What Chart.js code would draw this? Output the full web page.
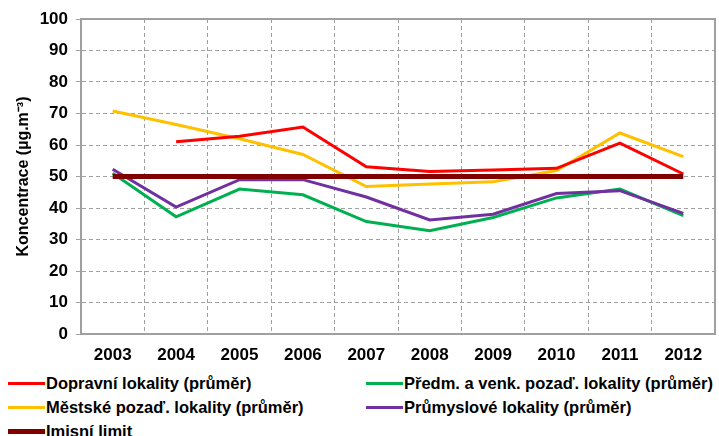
<!DOCTYPE html>
<html lang="cs">
<head>
    <meta charset="UTF-8">
    <title>Koncentrace</title>
    <style>
        body {
            margin: 0;
            padding: 0;
            background-color: #fff;
            font-family: "Liberation Sans", Arial, sans-serif;
        }
        .chart-box {
            position: relative;
            width: 719px;
            height: 366px;
        }
        .legend {
            position: relative;
            width: 719px;
            height: 70px;
        }
        .legend .item {
            position: absolute;
            display: flex;
            align-items: center;
            font-size: 16.5px;
            font-weight: bold;
            color: #000;
            white-space: nowrap;
            line-height: 20px;
        }
        .legend .swatch {
            width: 37px;
            margin-right: 1px;
        }
    </style>
</head>
<body>

    <div class="chart-box">
        <canvas id="no2Chart" width="719" height="366"></canvas>
    </div>
    <div class="legend" id="legend"></div>

    <script src="https://cdn.jsdelivr.net/npm/chart.js"></script>
    <script>
        // Data
        const years = ['2003', '2004', '2005', '2006', '2007', '2008', '2009', '2010', '2011', '2012'];
        const dopravni = [null, 61.0, 62.8, 65.7, 53.1, 51.6, 52.1, 52.6, 60.6, 50.8];
        const mestske = [70.8, 66.5, 62.0, 57.0, 46.8, 47.6, 48.3, 51.9, 63.8, 56.3];
        const predmestske = [51.0, 37.2, 46.0, 44.2, 35.7, 32.8, 37.0, 43.2, 46.0, 37.6];
        const prumyslove = [52.3, 40.3, 49.0, 49.0, 43.5, 36.2, 38.0, 44.6, 45.5, 38.3];
        const limit = [50, 50, 50, 50, 50, 50, 50, 50, 50, 50];

        const series = [
            { label: 'Dopravní lokality (průměr)', data: dopravni, color: '#ff0000', width: 3, order: 2 },
            { label: 'Předm. a venk. pozaď. lokality (průměr)', data: predmestske, color: '#00b050', width: 3, order: 4 },
            { label: 'Městské pozaď. lokality (průměr)', data: mestske, color: '#ffc000', width: 3, order: 3 },
            { label: 'Průmyslové lokality (průměr)', data: prumyslove, color: '#7030a0', width: 3, order: 1 },
            { label: 'Imisní limit', data: limit, color: '#800000', width: 5, order: 0 }
        ];

        const fontFamily = '"Liberation Sans", Arial, sans-serif';
        const tickFont = { family: fontFamily, size: 17, weight: 'bold' };

        // grey frame on top and right of the plot area
        const framePlugin = {
            id: 'frame',
            afterDatasetsDraw(c) {
                const a = c.chartArea;
                const g = c.ctx;
                g.save();
                g.strokeStyle = '#a0a0a0';
                g.lineWidth = 2;
                g.beginPath();
                g.moveTo(a.left, a.top);
                g.lineTo(a.right, a.top);
                g.lineTo(a.right, a.bottom);
                g.stroke();
                g.restore();
            }
        };

        const ctx = document.getElementById('no2Chart').getContext('2d');
        const chart = new Chart(ctx, {
            type: 'line',
            data: {
                labels: years,
                datasets: series.map(s => ({
                    label: s.label,
                    data: s.data,
                    borderColor: s.color,
                    backgroundColor: s.color,
                    borderWidth: s.width,
                    pointRadius: 0,
                    tension: 0,
                    order: s.order
                }))
            },
            options: {
                responsive: false,
                animation: false,
                layout: { padding: { top: 19, right: 4, left: 0, bottom: 0 } },
                plugins: {
                    legend: { display: false },
                    tooltip: { enabled: false }
                },
                scales: {
                    x: {
                        offset: true,
                        grid: { color: '#a0a0a0', offset: true, drawTicks: false },
                        border: { color: '#a0a0a0', width: 2, dash: [4, 3] },
                        ticks: { font: tickFont, color: '#000', padding: 11, maxRotation: 0 },
                        afterFit: s => { s.height = 32; }
                    },
                    y: {
                        min: 0,
                        max: 100,
                        ticks: { stepSize: 10, font: tickFont, color: '#000', padding: 8 },
                        grid: { color: '#a0a0a0', tickLength: 5, tickBorderDash: [] },
                        border: { color: '#a0a0a0', width: 2, dash: [4, 3] },
                        title: {
                            display: true,
                            text: 'Koncentrace (µg.m⁻³)',
                            font: { family: fontFamily, size: 16, weight: 'bold' },
                            color: '#000',
                            padding: { top: 14, bottom: 0 }
                        },
                        afterFit: s => { s.width = 81; }
                    }
                }
            },
            plugins: [framePlugin]
        });

        // Legend (two columns, like the original)
        const legendPos = [
            { left: 8, top: 17 },
            { left: 366, top: 17 },
            { left: 8, top: 41 },
            { left: 366, top: 41 },
            { left: 8, top: 65 }
        ];
        const legendEl = document.getElementById('legend');
        series.forEach((s, i) => {
            const item = document.createElement('div');
            item.className = 'item';
            item.style.left = legendPos[i].left + 'px';
            item.style.top = (legendPos[i].top - 10) + 'px';
            const sw = document.createElement('span');
            sw.className = 'swatch';
            sw.style.borderTop = s.width + 'px solid ' + s.color;
            item.appendChild(sw);
            item.appendChild(document.createTextNode(s.label));
            legendEl.appendChild(item);
        });
    </script>

</body>
</html>
